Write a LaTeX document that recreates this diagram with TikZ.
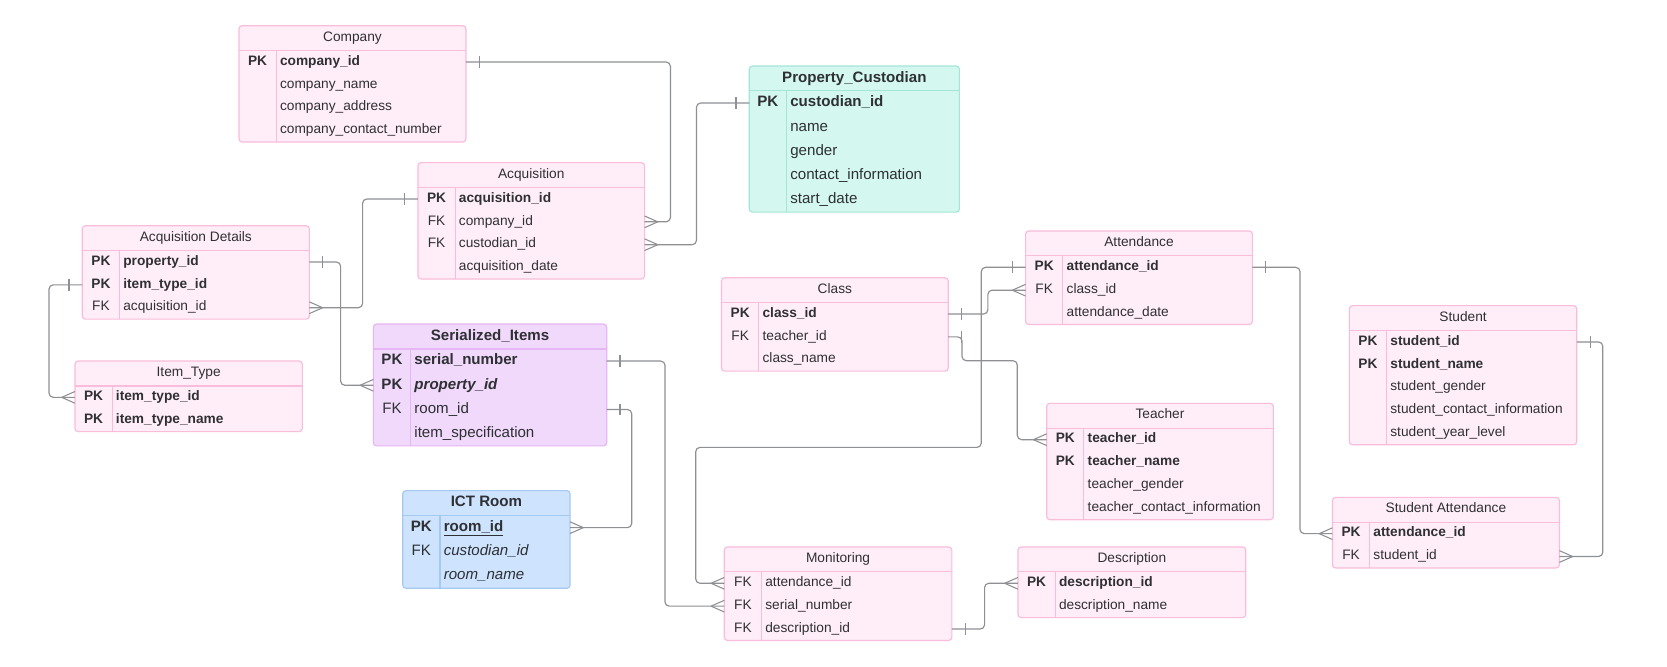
\documentclass[tikz,border=0pt]{standalone}
\usepackage{fontspec}
\setmainfont{Liberation Sans}
\usetikzlibrary{calc}
\definecolor{pinkF}{HTML}{FFEEF8}
\definecolor{pinkB}{HTML}{F9BCDB}
\definecolor{purF}{HTML}{F1D9FB}
\definecolor{purB}{HTML}{E6B5F3}
\definecolor{bluF}{HTML}{CDE3FE}
\definecolor{bluB}{HTML}{A6C9F2}
\definecolor{minF}{HTML}{D4F8F0}
\definecolor{minB}{HTML}{A3E6D8}
\definecolor{txt}{HTML}{2E3034}
\definecolor{wire}{HTML}{8E9094}
\newcommand\smallf{\fontsize{12.9}{15}\selectfont}
\newcommand\bigf{\fontsize{14.2}{17}\selectfont}
\def\erb{3.0}
\tikzset{
  tabbox/.style={draw, rounded corners=3pt, line width=1.1pt},
  conn/.style={draw=wire, line width=1.1pt, rounded corners=4pt},
  wireL/.style={draw=wire, line width=1pt},
}
\newcommand\ertab[8]{%
  \pgfmathsetmacro\erW{#5-#3}%
  \pgfmathsetmacro\erHb{#4+23.4}%
  \pgfmathsetmacro\erBot{#4+23.4+#6*#7}%
  \pgfmathsetmacro\erH{23.4+#6*#7}%
  \pgfmathsetmacro\erK{#3+35}%
  \pgfmathsetmacro\erMid{(#3+#5)/2}%
  \pgfmathsetmacro\erTy{#4+11.7+\erb}%
  \node[tabbox, fill=#2F, draw=#2B, minimum width=\erW pt, minimum height=\erH pt, anchor=north west] (#1) at (#3,#4) {};
  \draw[draw=#2B, line width=1.1pt] (#3,\erHb) -- (#5,\erHb) (\erK,\erHb) -- (\erK,\erBot);
  \node[anchor=base] (#1-t) at (\erMid,\erTy) {#8};
  \foreach \k in {1,...,#6}{\node[minimum width=\erW pt, minimum height=#7 pt, anchor=north west] (#1-\k) at (#3,{\erHb+(\k-1)*#7}) {};}%
}
\newcommand\erow[4]{\path (#1-#2.west) ++(17.5,\erb) node[anchor=base] (#1-#2k) {#3} (#1-#2.west) ++(38.6,\erb) node[anchor=base west] (#1-#2f) {#4};}
\newcommand\manyE[1]{\draw[wireL] ($(#1.east)+(12.5,0)$) -- ($(#1.east)+(0,-5.5)$) ($(#1.east)+(12.5,0)$) -- ($(#1.east)+(0,5.5)$);}
\newcommand\manyW[1]{\draw[wireL] ($(#1.west)+(-12.5,0)$) -- ($(#1.west)+(0,-5.5)$) ($(#1.west)+(-12.5,0)$) -- ($(#1.west)+(0,5.5)$);}
\newcommand\oneE[1]{\draw[wireL] ($(#1.east)+(12.5,-5.5)$) -- ($(#1.east)+(12.5,5.5)$);}
\newcommand\oneW[1]{\draw[wireL] ($(#1.west)+(-12.5,-5.5)$) -- ($(#1.west)+(-12.5,5.5)$);}
\begin{document}
\begin{tikzpicture}[x=1pt, y=-1pt, every node/.style={inner sep=0pt, outer sep=0pt, text=txt}, font=\smallf]
\fill[white] (0,0) rectangle (1568,627);
\useasboundingbox (0,0) rectangle (1568,627);

% ---------- tables (small) ----------
\ertab{comp}{pink}{224.8}{24.2}{438.3}{4}{21.5}{Company}
\erow{comp}{1}{\textbf{PK}}{\textbf{company\_id}}
\erow{comp}{2}{}{company\_name}
\erow{comp}{3}{}{company\_address}
\erow{comp}{4}{}{company\_contact\_number}

\ertab{acq}{pink}{393.1}{153.0}{606.3}{4}{21.5}{Acquisition}
\erow{acq}{1}{\textbf{PK}}{\textbf{acquisition\_id}}
\erow{acq}{2}{FK}{company\_id}
\erow{acq}{3}{FK}{custodian\_id}
\erow{acq}{4}{}{acquisition\_date}

\ertab{ad}{pink}{77.4}{212.3}{291.0}{3}{21.5}{Acquisition Details}
\erow{ad}{1}{\textbf{PK}}{\textbf{property\_id}}
\erow{ad}{2}{\textbf{PK}}{\textbf{item\_type\_id}}
\erow{ad}{3}{FK}{acquisition\_id}

\ertab{it}{pink}{70.5}{339.6}{284.4}{2}{21.5}{Item\_Type}
\erow{it}{1}{\textbf{PK}}{\textbf{item\_type\_id}}
\erow{it}{2}{\textbf{PK}}{\textbf{item\_type\_name}}

\ertab{cls}{pink}{678.7}{261.2}{891.9}{3}{21.5}{Class}
\erow{cls}{1}{\textbf{PK}}{\textbf{class\_id}}
\erow{cls}{2}{FK}{teacher\_id}
\erow{cls}{3}{}{class\_name}

\ertab{att}{pink}{964.7}{217.3}{1178.0}{3}{21.5}{Attendance}
\erow{att}{1}{\textbf{PK}}{\textbf{attendance\_id}}
\erow{att}{2}{FK}{class\_id}
\erow{att}{3}{}{attendance\_date}

\ertab{tch}{pink}{984.5}{379.4}{1197.7}{4}{21.5}{Teacher}
\erow{tch}{1}{\textbf{PK}}{\textbf{teacher\_id}}
\erow{tch}{2}{\textbf{PK}}{\textbf{teacher\_name}}
\erow{tch}{3}{}{teacher\_gender}
\erow{tch}{4}{}{teacher\_contact\_information}

\ertab{stu}{pink}{1269.2}{287.5}{1483.1}{5}{21.5}{Student}
\erow{stu}{1}{\textbf{PK}}{\textbf{student\_id}}
\erow{stu}{2}{\textbf{PK}}{\textbf{student\_name}}
\erow{stu}{3}{}{student\_gender}
\erow{stu}{4}{}{student\_contact\_information}
\erow{stu}{5}{}{student\_year\_level}

\ertab{sa}{pink}{1253.3}{467.8}{1466.8}{2}{21.5}{Student Attendance}
\erow{sa}{1}{\textbf{PK}}{\textbf{attendance\_id}}
\erow{sa}{2}{FK}{student\_id}

\ertab{mon}{pink}{681.3}{514.5}{895.3}{3}{21.5}{Monitoring}
\erow{mon}{1}{FK}{attendance\_id}
\erow{mon}{2}{FK}{serial\_number}
\erow{mon}{3}{FK}{description\_id}

\ertab{desc}{pink}{957.5}{514.5}{1171.8}{2}{21.5}{Description}
\erow{desc}{1}{\textbf{PK}}{\textbf{description\_id}}
\erow{desc}{2}{}{description\_name}

% ---------- tables (large, coloured) ----------
\begin{scope}[font=\bigf]
\def\erb{3.6}
\ertab{ser}{pur}{351.2}{304.8}{570.7}{4}{22.8}{\textbf{Serialized\_Items}}
\erow{ser}{1}{\textbf{PK}}{\textbf{serial\_number}}
\erow{ser}{2}{\textbf{PK}}{\textbf{\textit{property\_id}}}
\erow{ser}{3}{FK}{room\_id}
\erow{ser}{4}{}{item\_specification}

\ertab{ict}{blu}{378.8}{461.5}{536.2}{3}{22.8}{\textbf{ICT Room}}
\erow{ict}{1}{\textbf{PK}}{\underline{\textbf{room\_id}}}
\erow{ict}{2}{FK}{\textit{custodian\_id}}
\erow{ict}{3}{}{\textit{room\_name}}

\ertab{cust}{min}{704.8}{62.1}{902.4}{5}{22.8}{\textbf{Property\_Custodian}}
\erow{cust}{1}{\textbf{PK}}{\textbf{custodian\_id}}
\erow{cust}{2}{}{name}
\erow{cust}{3}{}{gender}
\erow{cust}{4}{}{contact\_information}
\erow{cust}{5}{}{start\_date}
\end{scope}

% ---------- connectors ----------
\coordinate (L1) at (630.6,0);
\coordinate (L2) at (655.1,0);
\coordinate (L3) at (341.1,0);
\coordinate (L4) at (320.4,0);
\coordinate (L5) at (46.1,0);
\coordinate (L6) at (594.2,0);
\coordinate (L7) at (625.5,0);
\coordinate (L8a) at (923,420.8);
\coordinate (L8b) at (654.4,420.8);
\coordinate (L9) at (929.2,0);
\coordinate (L10a) at (904.9,339.3);
\coordinate (L10b) at (956.9,339.3);
\coordinate (L11) at (1222.8,0);
\coordinate (L12) at (1507.6,0);
\coordinate (L13) at (926.1,0);

\draw[conn] (comp-1.east) -| (L1 |- acq-2.east) -- (acq-2.east);
\oneE{comp-1} \manyE{acq-2}
\draw[conn] (cust-1.west) -| (L2 |- acq-3.east) -- (acq-3.east);
\oneW{cust-1} \manyE{acq-3}
\draw[conn] (acq-1.west) -| (L3 |- ad-3.east) -- (ad-3.east);
\oneW{acq-1} \manyE{ad-3}
\draw[conn] (ad-1.east) -| (L4 |- ser-2.west) -- (ser-2.west);
\oneE{ad-1} \manyW{ser-2}
\draw[conn] (ad-2.west) -| (L5 |- it-1.west) -- (it-1.west);
\oneW{ad-2} \manyW{it-1}
\draw[conn] (ser-3.east) -| (L6 |- ict-1.east) -- (ict-1.east);
\oneE{ser-3} \manyE{ict-1}
\draw[conn] (ser-1.east) -| (L7 |- mon-2.west) -- (mon-2.west);
\oneE{ser-1} \manyW{mon-2}
\draw[conn] (att-1.west) -| (L8a) -- (L8b) |- (mon-1.west);
\oneW{att-1} \manyW{mon-1}
\draw[conn] (cls-1.east) -| (L9 |- att-2.west) -- (att-2.west);
\oneE{cls-1} \manyW{att-2}
\draw[conn] (cls-2.east) -| (L10a) -- (L10b) |- (tch-1.west);
\oneE{cls-2} \manyW{tch-1}
\draw[conn] (att-1.east) -| (L11 |- sa-1.west) -- (sa-1.west);
\oneE{att-1} \manyW{sa-1}
\draw[conn] (stu-1.east) -| (L12 |- sa-2.east) -- (sa-2.east);
\oneE{stu-1} \manyE{sa-2}
\draw[conn] (mon-3.east) -| (L13 |- desc-1.west) -- (desc-1.west);
\oneE{mon-3} \manyW{desc-1}
\end{tikzpicture}
\end{document}
